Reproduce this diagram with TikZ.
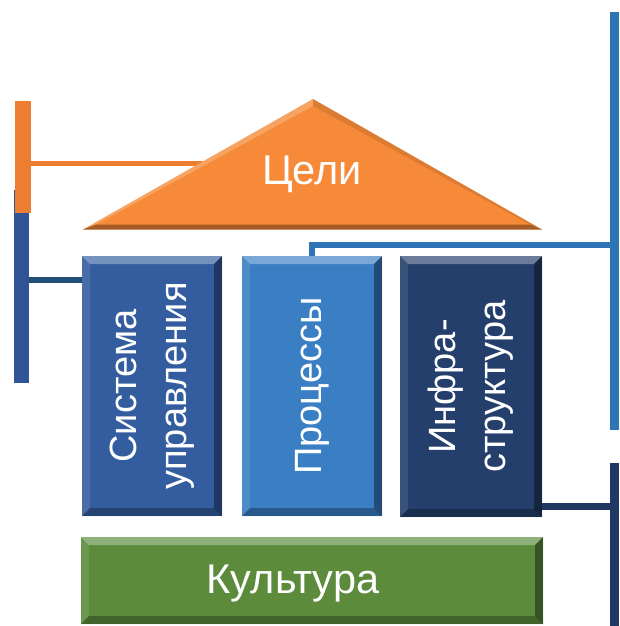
\documentclass[tikz,border=0pt]{standalone}
\usepackage{fontspec}
\setmainfont{Liberation Sans}
\definecolor{cOrange}{HTML}{F68A38}
\definecolor{cOrangeBar}{HTML}{ED7D31}
\definecolor{cSys}{HTML}{345DA0}
\definecolor{cProc}{HTML}{3A7EC4}
\definecolor{cInfra}{HTML}{243F6B}
\definecolor{cGreen}{HTML}{5B8B3B}
\definecolor{cBlueL}{HTML}{2F5597}
\definecolor{cBlueR}{HTML}{2E75B6}
\definecolor{cNavy}{HTML}{203864}
\definecolor{cLink}{HTML}{1F4E79}
\begin{document}
\begin{tikzpicture}[x=1pt,y=-1pt,
  bar/.style={rectangle,inner sep=0pt,outer sep=0pt,draw=none},
  link/.style={line cap=butt,line join=miter},
  pillar/.style={rectangle,inner sep=0pt,outer sep=0pt,draw=none,
    path picture={
      \fill[white,opacity=.32] (path picture bounding box.north west) -- (path picture bounding box.north east)
        -- ([xshift=-8pt,yshift=-8pt]path picture bounding box.north east) -- ([xshift=8pt,yshift=-8pt]path picture bounding box.north west) -- cycle;
      \fill[white,opacity=.10] (path picture bounding box.north west) -- ([xshift=8pt,yshift=-8pt]path picture bounding box.north west)
        -- ([xshift=8pt,yshift=8pt]path picture bounding box.south west) -- (path picture bounding box.south west) -- cycle;
      \fill[black,opacity=.40] (path picture bounding box.north east) -- (path picture bounding box.south east)
        -- ([xshift=-8pt,yshift=8pt]path picture bounding box.south east) -- ([xshift=-8pt,yshift=-8pt]path picture bounding box.north east) -- cycle;
      \fill[black,opacity=.28] (path picture bounding box.south west) -- (path picture bounding box.south east)
        -- ([xshift=-8pt,yshift=8pt]path picture bounding box.south east) -- ([xshift=8pt,yshift=8pt]path picture bounding box.south west) -- cycle;
    }},
  lbl/.style={text=white,inner sep=0pt,align=center,font=\fontsize{38}{50}\selectfont},
  biglbl/.style={text=white,inner sep=0pt,align=center,font=\fontsize{41.5}{48}\selectfont},
]
\useasboundingbox (0,0) rectangle (619,626);

% named coordinates for connector routes
\coordinate (gl) at (230,163.5);
\coordinate (sysin) at (60,280);
\coordinate (pj) at (313,245);
\coordinate (ij) at (575,506.5);

% side bars
\node[bar,fill=cBlueL,minimum width=15pt,minimum height=193pt] (lbar) at (21.5,286.5) {};
\node[bar,fill=cOrangeBar,minimum width=15.5pt,minimum height=112pt] (obar) at (22.75,157) {};
\node[bar,fill=cBlueR,minimum width=9pt,minimum height=418pt] (rbar) at (614.5,221) {};
\node[bar,fill=cNavy,minimum width=9pt,minimum height=163pt] (nbar) at (614.5,544.5) {};

% pillars (nodes)
\node[pillar,fill=cSys,minimum width=140pt,minimum height=260pt] (sys) at (152,386) {};
\node[pillar,fill=cProc,minimum width=140pt,minimum height=260pt] (proc) at (312,386) {};
\node[pillar,fill=cInfra,minimum width=142pt,minimum height=261pt] (infra) at (471,386.5) {};
\node[pillar,fill=cGreen,minimum width=462pt,minimum height=87pt] (cult) at (312,580.5) {};

% connectors
\draw[link,cOrangeBar,line width=5pt] (obar.east |- gl) -- (gl);
\draw[link,cLink,line width=6pt] (lbar.east |- sysin) -- (sys.west |- sysin);
\draw[link,cBlueR,line width=6pt] (proc.north) -- (proc.north |- pj) -- (rbar.west |- pj);
\draw[link,cNavy,line width=7pt] (infra.east |- ij) -- (nbar.west |- ij);

% roof (triangle with bevel)
\coordinate (ta) at (313,99);
\coordinate (tl) at (83,229.5);
\coordinate (tr) at (542,229.5);
\coordinate (ia) at (313,106);
\coordinate (il) at (96,224.5);
\coordinate (ir) at (530,224.5);
\fill[cOrange] (tl) -- (ta) -- (tr) -- cycle;
\fill[white,opacity=.22] (tl) -- (ta) -- (ia) -- (il) -- cycle;
\fill[black,opacity=.10] (ta) -- (tr) -- (ir) -- (ia) -- cycle;
\fill[black,opacity=.32] (tl) -- (tr) -- (ir) -- (il) -- cycle;

% labels
\node[biglbl] (goalT) at (312,174) {Цели};
\node[lbl,rotate=90] (sysT) at (sys) {Система\\управления};
\node[lbl,rotate=90] (procT) at (proc) {Процессы};
\node[lbl,rotate=90] (infraT) at (infra) {Инфра-\\структура};
\node[biglbl] (cultT) at (293,584) {Культура};
\end{tikzpicture}
\end{document}
